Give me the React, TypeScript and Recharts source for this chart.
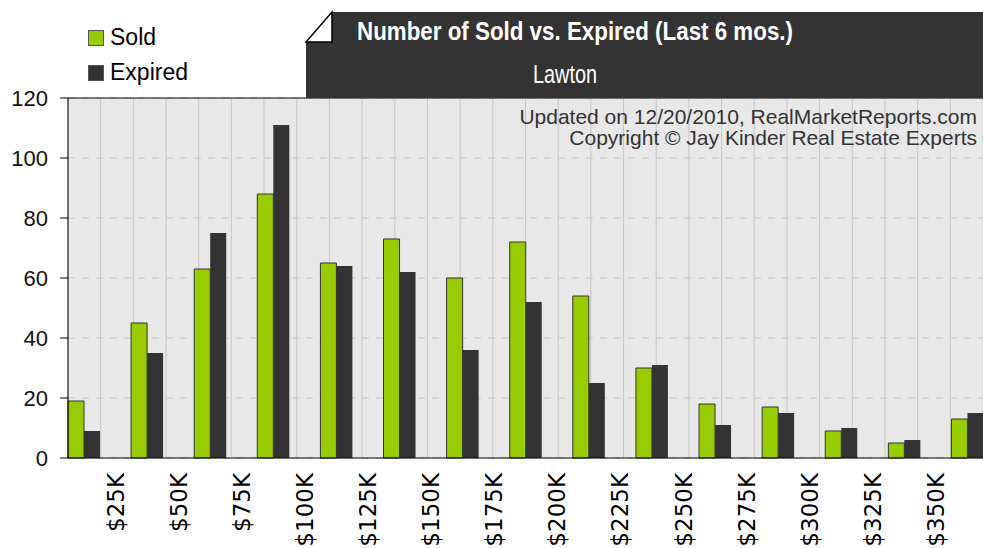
import React from 'react';
import { ComposedChart, Bar, XAxis, YAxis, CartesianGrid, ReferenceLine, Legend } from 'recharts';

// price bands; bars sit between the labels
const priceLabels = ['$25K', '$50K', '$75K', '$100K', '$125K', '$150K', '$175K', '$200K', '$225K', '$250K', '$275K', '$300K', '$325K', '$350K'];
const sold = [19, 45, 63, 88, 65, 73, 60, 72, 54, 30, 18, 17, 9, 5, 13];
const expired = [9, 35, 75, 111, 64, 62, 36, 52, 25, 31, 11, 15, 10, 6, 15];
const yTicks = [0, 20, 40, 60, 80, 100, 120];
const seriesOrder = ['Sold', 'Expired'];

const chartData: Array<{ name: string; sold: number | null; expired: number | null }> = [];
sold.forEach((s, i) => {
  chartData.push({ name: `group${i}`, sold: s, expired: expired[i] });
  if (i < priceLabels.length) {
    chartData.push({ name: priceLabels[i], sold: null, expired: null });
  }
});
const slotEdges = chartData.map((_, i) => i).concat(chartData.length);

const SOLD_COLOR = '#99cc00';
const EXPIRED_COLOR = '#333333';
const GRID_COLOR = '#c6c6c6';
const SANS = "'Liberation Sans', Arial, Helvetica, sans-serif";
const NARROW = "'Liberation Sans Narrow', 'Arial Narrow', 'Liberation Sans', Arial, sans-serif";

const PriceTick = (props: any) => {
  const { x, y, payload } = props;
  if (!priceLabels.includes(payload.value)) return null;
  return (
    <text
      x={x}
      y={y}
      transform={`rotate(-90, ${x}, ${y})`}
      textAnchor="end"
      dy="0.36em"
      fontSize={23}
      fontFamily="'DejaVu Sans', sans-serif"
      fill="#000"
    >
      {payload.value}
    </text>
  );
};

const LegendBox = (props: any) => {
  const items = [...(props.payload || [])].sort(
    (a: any, b: any) => seriesOrder.indexOf(a.value) - seriesOrder.indexOf(b.value)
  );
  return (
    <div style={{ fontFamily: SANS, fontSize: 23, color: '#000' }}>
      {items.map((entry: any) => (
        <div key={entry.value} style={{ display: 'flex', alignItems: 'center', height: 35 }}>
          <span
            style={{
              display: 'inline-block',
              width: 14,
              height: 14,
              background: entry.color,
              border: '1px solid #555',
              marginRight: 6,
            }}
          />
          {entry.value}
        </div>
      ))}
    </div>
  );
};

export default function App() {
  return (
    <div style={{ position: 'absolute', left: 0, top: 0, width: 983, height: 548, background: '#fff' }}>
      <ComposedChart
        width={983}
        height={548}
        data={chartData}
        margin={{ top: 98, right: 0, bottom: 0, left: 0 }}
        barCategoryGap={0}
        barGap={0}
      >
        <CartesianGrid xAxisId="grid" horizontal={false} stroke={GRID_COLOR} fill="#e8e8e8" />
        <CartesianGrid xAxisId="grid" vertical={false} stroke={GRID_COLOR} strokeDasharray="7 7" />
        <XAxis
          xAxisId="grid"
          type="number"
          domain={[0, chartData.length]}
          ticks={slotEdges}
          allowDataOverflow
          height={0}
          axisLine={false}
          tickLine={{ stroke: '#000' }}
          tickSize={9}
          tickFormatter={() => ''}
        />
        <XAxis
          xAxisId="cat"
          dataKey="name"
          interval={0}
          height={90}
          axisLine={{ stroke: '#000' }}
          tickLine={false}
          tickSize={0}
          tickMargin={15}
          tick={<PriceTick />}
        />
        <YAxis
          domain={[0, 120]}
          ticks={yTicks}
          width={68}
          tickSize={8}
          tickMargin={12}
          axisLine={{ stroke: '#000' }}
          tickLine={{ stroke: '#000' }}
          tick={{ fill: '#111', fontSize: 22, fontFamily: SANS }}
        />
        <ReferenceLine xAxisId="cat" y={120} stroke="#000" />
        <Legend
          layout="vertical"
          align="center"
          verticalAlign="middle"
          content={<LegendBox />}
          wrapperStyle={{ top: 20, left: 88, width: 200, height: 80 }}
        />
        <Bar
          xAxisId="cat"
          dataKey="sold"
          name="Sold"
          fill={SOLD_COLOR}
          stroke="#333"
          strokeWidth={1}
          isAnimationActive={false}
        />
        <Bar
          xAxisId="cat"
          dataKey="expired"
          name="Expired"
          fill={EXPIRED_COLOR}
          isAnimationActive={false}
        />
      </ComposedChart>
      <svg
        width={983}
        height={548}
        style={{ position: 'absolute', left: 0, top: 0, pointerEvents: 'none' }}
      >
        <polygon points="306,42 332,42 332,12 983,12 983,98 306,98" fill="#333" />
        <polygon points="306,42 332,12 332,42" fill="#fff" stroke="#000" strokeWidth={1.5} />
        <text
          x={575}
          y={40}
          textAnchor="middle"
          fill="#fff"
          fontWeight="bold"
          fontSize={26}
          fontFamily={NARROW}
          textLength={436}
          lengthAdjust="spacingAndGlyphs"
        >
          Number of Sold vs. Expired (Last 6 mos.)
        </text>
        <text
          x={565}
          y={83}
          textAnchor="middle"
          fill="#fff"
          fontSize={26}
          fontFamily={NARROW}
          textLength={64}
          lengthAdjust="spacingAndGlyphs"
        >
          Lawton
        </text>
        <text x={977} y={124} textAnchor="end" fill="#333" fontSize={21} fontFamily={SANS}>
          Updated on 12/20/2010, RealMarketReports.com
        </text>
        <text x={977} y={145} textAnchor="end" fill="#333" fontSize={21} fontFamily={SANS}>
          Copyright © Jay Kinder Real Estate Experts
        </text>
      </svg>
    </div>
  );
}
